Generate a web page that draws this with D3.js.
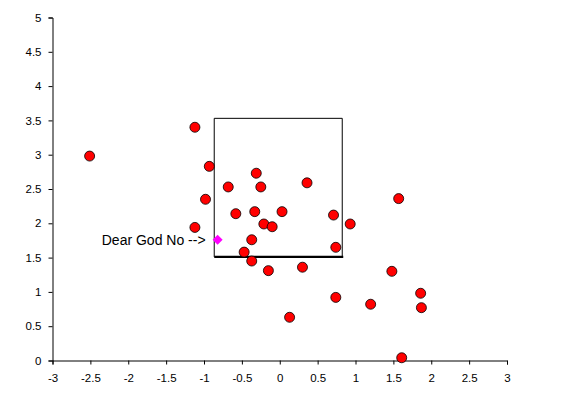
<!DOCTYPE html>
<html>
<head>
<meta charset="utf-8">
<script src="https://cdn.jsdelivr.net/npm/d3@7"></script>
<style>
  body { margin: 0; background: #fff; }
  svg { display: block; font-family: "Liberation Sans", Arial, sans-serif; }
</style>
</head>
<body>
<div id="chart"></div>
<script>
// red points
const xs = [-2.51, -1.12, -0.93, -0.31, -0.68, -0.25, 0.36, -0.98, -0.58, -0.33,
  0.03, 0.71, 0.93, -1.12, -0.21, -0.10, -0.37, -0.47, 0.74, -0.37,
  -0.15, 0.30, 0.74, 0.13, 1.57, 1.48, 1.20, 1.86, 1.87, 1.61];
const ys = [2.98, 3.40, 2.83, 2.73, 2.53, 2.53, 2.59, 2.35, 2.14, 2.17,
  2.17, 2.12, 1.99, 1.94, 1.99, 1.95, 1.76, 1.58, 1.65, 1.45,
  1.31, 1.36, 0.92, 0.63, 2.36, 1.30, 0.82, 0.98, 0.77, 0.04];

// highlighted point
const special = { x: -0.82, y: 1.76, label: "Dear God No -->" };

// box corners (left, right, bottom, top)
const boxX = [-0.865, 0.825];
const boxY = [1.51, 3.53];

const xTicks = [-3, -2.5, -2, -1.5, -1, -0.5, 0, 0.5, 1, 1.5, 2, 2.5, 3];
const yTicks = [0, 0.5, 1, 1.5, 2, 2.5, 3, 3.5, 4, 4.5, 5];

const W = 581;
const H = 409;
const M = { top: 17.5, right: 74, bottom: 48.5, left: 52.5 };

const svg = d3.select("#chart").append("svg").attr("width", W).attr("height", H);

const x = d3.scaleLinear().domain([-3, 3]).range([M.left, W - M.right]);
const y = d3.scaleLinear().domain([0, 5]).range([H - M.bottom, M.top]);

// axes
svg.append("g")
  .attr("transform", `translate(0,${y(0)})`)
  .call(d3.axisBottom(x).tickValues(xTicks).tickFormat(d => d).tickSizeOuter(0).tickSize(4).tickPadding(9))
  .call(g => g.selectAll("text").attr("font-size", 11.5).attr("font-family", "Liberation Sans, Arial, sans-serif").attr("fill", "#000"))
  .call(g => g.selectAll("line,path").attr("stroke", "#000"));

svg.append("g")
  .attr("transform", `translate(${x(-3)},0)`)
  .call(d3.axisLeft(y).tickValues(yTicks).tickFormat(d => d).tickSizeOuter(0).tickSize(4).tickPadding(7))
  .call(g => g.selectAll("text").attr("font-size", 11.5).attr("font-family", "Liberation Sans, Arial, sans-serif").attr("fill", "#000"))
  .call(g => g.selectAll("line,path").attr("stroke", "#000"));

// box: left, top, right thin; bottom thick
const box = svg.append("g").attr("fill", "none").attr("stroke", "#000");
box.append("path")
  .attr("d", d3.line()([
    [x(boxX[0]), y(boxY[0])], [x(boxX[0]), y(boxY[1])],
    [x(boxX[1]), y(boxY[1])], [x(boxX[1]), y(boxY[0])]
  ]))
  .attr("stroke-width", 1);
box.append("line")
  .attr("x1", x(boxX[0])).attr("x2", x(boxX[1]) + 1)
  .attr("y1", y(boxY[0])).attr("y2", y(boxY[0]))
  .attr("stroke-width", 2.2);

// points
svg.append("g")
  .selectAll("circle")
  .data(xs.map((d, i) => ({ x: d, y: ys[i] })))
  .join("circle")
  .attr("cx", d => x(d.x))
  .attr("cy", d => y(d.y))
  .attr("r", 5)
  .attr("fill", "#ff0000")
  .attr("stroke", "#000")
  .attr("stroke-width", 0.8);

// special diamond
svg.append("path")
  .attr("d", d3.symbol().type(d3.symbolDiamond2).size(64)())
  .attr("transform", `translate(${x(special.x)},${y(special.y)})`)
  .attr("fill", "#ff00ff");

svg.append("text")
  .attr("x", x(special.x) - 12)
  .attr("y", y(special.y) + 5)
  .attr("text-anchor", "end")
  .attr("font-size", 14)
  .text(special.label);
</script>
</body>
</html>
